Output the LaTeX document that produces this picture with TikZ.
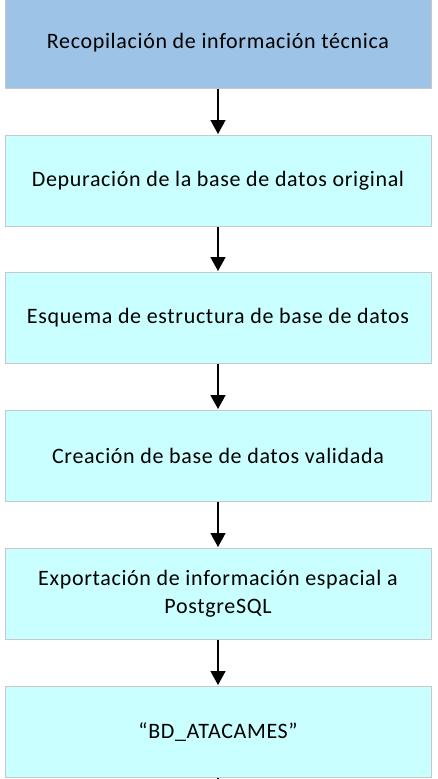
\documentclass[tikz,border=0pt]{standalone}
\usepackage{fontspec}
\setmainfont[LetterSpace=3]{Carlito}
\usetikzlibrary{arrows.meta}
\definecolor{boxblue}{HTML}{9DC3E6}
\definecolor{boxcyan}{HTML}{C9FFFF}
\definecolor{boxedge}{HTML}{C8C8C8}
\tikzset{
  stepbox/.style={draw=boxedge, line width=1pt, fill=boxcyan, minimum width=426pt, minimum height=91pt, inner sep=0pt, align=center, font=\fontsize{22}{28}\selectfont, text=black, anchor=north},
  flowarrow/.style={draw=black, line width=1.6pt, -{Triangle[length=14pt, width=15pt]}, shorten >=1pt}
}
\begin{document}
\begin{tikzpicture}[x=1pt,y=1pt]
\useasboundingbox (0,0) rectangle (437,-779);
\node[stepbox, fill=boxblue, minimum height=91pt] (s1) at (218,3) {Recopilación de información técnica};
\node[stepbox] (s2) at (218,-135) {Depuración de la base de datos original};
\node[stepbox] (s3) at (218,-272) {Esquema de estructura de base de datos};
\node[stepbox] (s4) at (218,-410) {Creación de base de datos validada};
\node[stepbox] (s5) at (218,-548) {Exportación de información espacial a\\PostgreSQL};
\node[stepbox] (s6) at (218,-686) {“BD\_ATACAMES”};
\coordinate (end) at (218,-820);
\draw[flowarrow] (s1) -- (s2);
\draw[flowarrow] (s2) -- (s3);
\draw[flowarrow] (s3) -- (s4);
\draw[flowarrow] (s4) -- (s5);
\draw[flowarrow] (s5) -- (s6);
\draw[line width=1.6pt] (s6.south) -- (end);
\end{tikzpicture}
\end{document}
